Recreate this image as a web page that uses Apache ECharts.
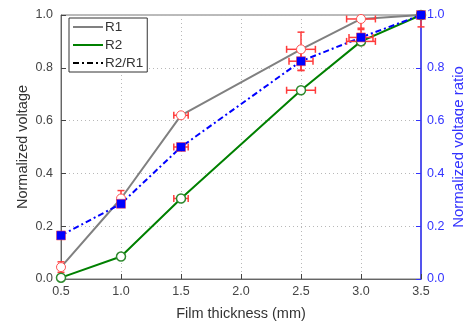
<!DOCTYPE html>
<html><head><meta charset="utf-8">
<script src="https://cdn.jsdelivr.net/npm/echarts@6/dist/echarts.min.js"></script>
<style>html,body{margin:0;padding:0;background:#fff}#c{width:464px;height:325px}</style>
</head><body><div id="c"></div>
<script>
// Data
var thickness = [0.5, 1.0, 1.5, 2.5, 3.0, 3.5];
var r1 = [0.045, 0.305, 0.62, 0.87, 0.985, 1.0];
var r2 = [0.005, 0.085, 0.305, 0.715, 0.90, 1.0];
var ratio = [0.165, 0.285, 0.50, 0.825, 0.915, 1.0];
// error bars
var r1XErr = [0, 0.02, 0.06, 0.12, 0.12, 0];
var r1YLow = [0.02, 0.02, 0.005, 0.08, 0.035, 0];
var r1YHigh = [0.02, 0.03, 0.005, 0.065, 0.01, 0];
var r2XErr = [0, 0.02, 0.06, 0.12, 0.12, 0];
var r2YLow = [0.005, 0.01, 0.005, 0.01, 0.01, 0.045];
var r2YHigh = [0.005, 0.01, 0.005, 0.01, 0.01, 0];
var ratioXErr = [0, 0.02, 0.06, 0.1, 0.1, 0];
var ratioYLow = [0.01, 0.01, 0.01, 0.035, 0.03, 0];
var ratioYHigh = [0.01, 0.01, 0.01, 0.035, 0.03, 0];
var xTicks = ['0.5','1.0','1.5','2.0','2.5','3.0','3.5'];
var yTicks = ['0.0','0.2','0.4','0.6','0.8','1.0'];

function pts(ys){ return thickness.map(function(x,i){ return [x, ys[i]]; }); }
function errData(ys, xe, yl, yh){ return thickness.map(function(x,i){ return [x, ys[i], xe[i], yl[i], yh[i]]; }); }

var ERR = '#ff3b3b';
function renderErr(params, api){
  var x = api.value(0), y = api.value(1), xe = api.value(2), yl = api.value(3), yh = api.value(4);
  var c = api.coord([x, y]);
  var left = api.coord([x - xe, y]), right = api.coord([x + xe, y]);
  var lo = api.coord([x, y - yl]), hi = api.coord([x, y + yh]);
  var cap = 3.5;
  var st = {stroke: ERR, lineWidth: 1.5};
  var ch = [];
  if (xe > 0) {
    ch.push({type:'line', shape:{x1:left[0],y1:c[1],x2:right[0],y2:c[1]}, style:st});
    ch.push({type:'line', shape:{x1:left[0],y1:c[1]-cap,x2:left[0],y2:c[1]+cap}, style:st});
    ch.push({type:'line', shape:{x1:right[0],y1:c[1]-cap,x2:right[0],y2:c[1]+cap}, style:st});
  }
  if (yl > 0 || yh > 0) {
    ch.push({type:'line', shape:{x1:c[0],y1:lo[1],x2:c[0],y2:hi[1]}, style:st});
    if (yl > 0) ch.push({type:'line', shape:{x1:c[0]-cap,y1:lo[1],x2:c[0]+cap,y2:lo[1]}, style:st});
    if (yh > 0) ch.push({type:'line', shape:{x1:c[0]-cap,y1:hi[1],x2:c[0]+cap,y2:hi[1]}, style:st});
  }
  return {type:'group', children: ch};
}

var chart = echarts.init(document.getElementById('c'), null, {renderer:'canvas'});
var font = 'Liberation Sans, Arial, sans-serif';
var grid = {left:61, right:43, top:15, bottom:46, show:true, borderColor:'#777', borderWidth:1, backgroundColor:'transparent', containLabel:false, outerBoundsMode:'none'};
var split = {show:true, lineStyle:{color:'#b8b8b8', type:[1,3], width:1}};
chart.setOption({
  animation:false,
  textStyle:{fontFamily:font},
  grid: grid,
  legend: {
    left:69, top:18, orient:'vertical', itemWidth:30, itemHeight:12, itemGap:4,
    padding:[2,4,2,3], backgroundColor:'#fff', borderColor:'#333', borderWidth:1, borderRadius:0,
    textStyle:{fontSize:13.5, color:'#333', fontFamily:font, padding:[0,0,0,-3]},
    data:[
      {name:'R1', itemStyle:{color:'transparent', borderWidth:0}, lineStyle:{color:'#808080', width:2}},
      {name:'R2', itemStyle:{color:'transparent', borderWidth:0}, lineStyle:{color:'#008000', width:2}},
      {name:'R2/R1', itemStyle:{color:'transparent', borderWidth:0}, lineStyle:{color:'#000', width:2, type:[6,3,2,3]}}
    ]
  },
  xAxis: {
    type:'value', min:0.5, max:3.5, interval:0.5,
    name:'Film thickness (mm)', nameLocation:'middle', nameGap:27, nameMoveOverlap:false,
    nameTextStyle:{fontSize:14.5, color:'#333'},
    axisLine:{lineStyle:{color:'#666', width:1}},
    axisTick:{inside:true, length:5, lineStyle:{color:'#444'}},
    axisLabel:{color:'#444', fontSize:12.5, margin:6, formatter:function(v){ return xTicks[Math.round((v-0.5)/0.5)]; }},
    splitLine: split
  },
  yAxis: [{
    type:'value', min:0, max:1, interval:0.2,
    name:'Normalized voltage', nameLocation:'middle', nameGap:31, nameRotate:90, nameMoveOverlap:false,
    nameTextStyle:{fontSize:14.5, color:'#333'},
    axisLine:{show:true, lineStyle:{color:'#666'}},
    axisTick:{show:true, inside:true, length:5, lineStyle:{color:'#444'}},
    axisLabel:{color:'#444', fontSize:12.5, margin:8, formatter:function(v){ return yTicks[Math.round(v/0.2)]; }},
    splitLine: split
  },{
    type:'value', min:0, max:1, interval:0.2, position:'right',
    name:'Normalized voltage ratio', nameLocation:'middle', nameGap:30, nameRotate:90, nameMoveOverlap:false,
    nameTextStyle:{fontSize:15, color:'#3333ff'},
    axisLine:{show:true, lineStyle:{color:'#3333ff', width:1.5}},
    axisTick:{show:true, inside:true, length:5, lineStyle:{color:'#3333ff'}},
    axisLabel:{color:'#3333ff', fontSize:12.5, margin:6, formatter:function(v){ return yTicks[Math.round(v/0.2)]; }},
    splitLine:{show:false}
  }],
  series: [
    {name:'R1', type:'line', data:pts(r1), symbol:'none', lineStyle:{color:'#808080', width:2}, itemStyle:{color:'#808080'}, z:2},
    {name:'R2', type:'line', data:pts(r2), symbol:'none', lineStyle:{color:'#008000', width:2}, itemStyle:{color:'#008000'}, z:2},
    {name:'R2/R1', type:'line', yAxisIndex:1, data:pts(ratio), symbol:'none', lineStyle:{color:'#0000ff', width:2, type:[6,3,2,3]}, itemStyle:{color:'#0000ff'}, z:2},
    {type:'custom', data:errData(r1, r1XErr, r1YLow, r1YHigh), renderItem:renderErr, z:3, silent:true},
    {type:'custom', data:errData(r2, r2XErr, r2YLow, r2YHigh), renderItem:renderErr, z:3, silent:true},
    {type:'custom', yAxisIndex:1, data:errData(ratio, ratioXErr, ratioYLow, ratioYHigh), renderItem:renderErr, z:3, silent:true},
    {type:'scatter', data:pts(r1), symbol:'circle', symbolSize:9, itemStyle:{color:'#fff', borderColor:'#ff5050', borderWidth:1, opacity:1}, z:4, silent:true},
    {type:'scatter', data:pts(r2), symbol:'circle', symbolSize:9, itemStyle:{color:'#fff', borderColor:'#2f8a2f', borderWidth:1.5, opacity:1}, z:4, silent:true},
    {type:'scatter', yAxisIndex:1, data:pts(ratio), symbol:'rect', symbolSize:9, itemStyle:{color:'#0000ff', borderColor:'#ff3b3b', borderWidth:0.5, opacity:1}, z:4, silent:true}
  ]
});
</script></body></html>
